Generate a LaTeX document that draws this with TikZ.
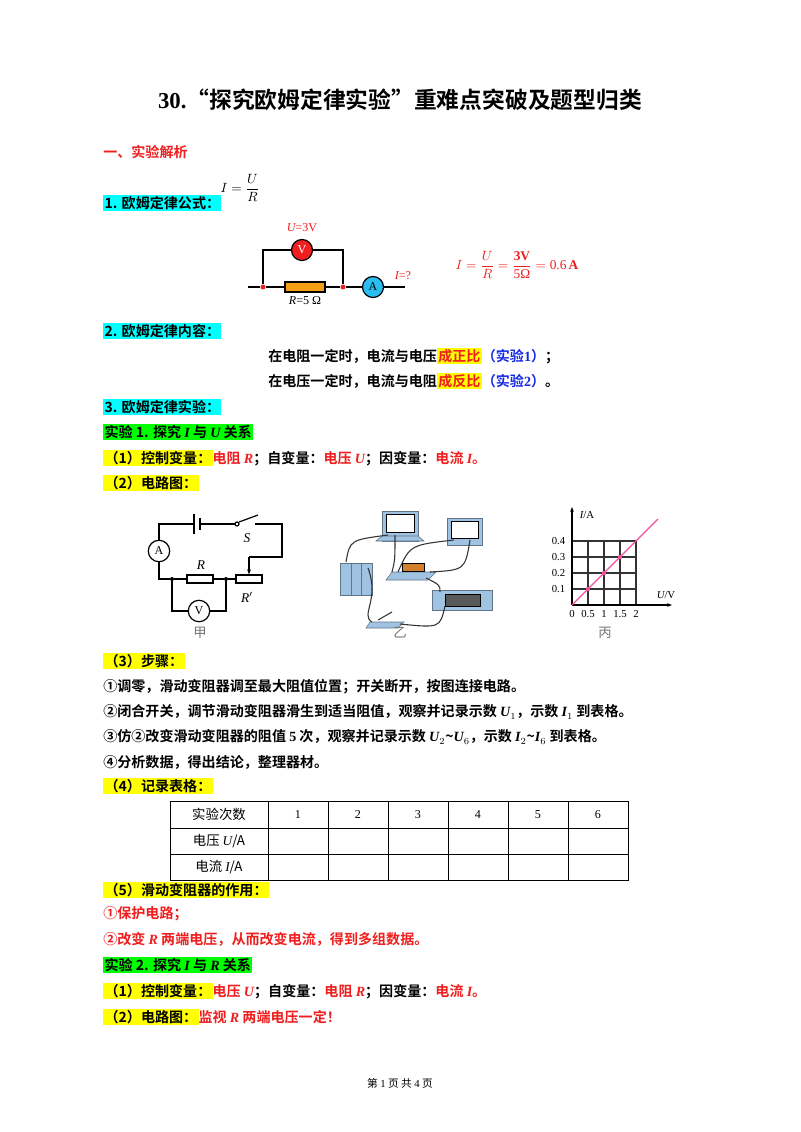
\documentclass[tikz,border=0pt]{standalone}
\usepackage{amsmath}
\usepackage{fontspec}
\setmainfont{Noto Sans CJK SC}[BoldFont={Noto Sans CJK SC Bold}]
\newfontfamily\lat{Liberation Serif}
\usetikzlibrary{arrows.meta,positioning,calc}
\definecolor{hlcyan}{RGB}{0,255,255}
\definecolor{hlgreen}{RGB}{0,255,0}
\definecolor{hlyellow}{RGB}{255,255,0}
\definecolor{txred}{RGB}{240,30,30}
\definecolor{txblue}{RGB}{20,40,230}
\definecolor{resorange}{RGB}{245,160,20}
\definecolor{metercyan}{RGB}{40,190,240}
\definecolor{appblue}{RGB}{160,195,225}
\newcommand{\hl}[2]{{\setlength\fboxsep{1pt}\colorbox{#1}{#2}}}
\newcommand{\vi}[1]{{\lat\itshape #1}}
\newcommand{\rd}[1]{\textcolor{txred}{#1}}
\tikzset{
  line/.style={anchor=west, inner sep=0pt, font=\fontsize{10.5}{12}\selectfont\bfseries},
  wire/.style={line width=0.9pt},
  meter/.style={circle, draw, wire, minimum size=15.7pt, inner sep=0pt, font=\lat\small},
  resist/.style={draw, wire, minimum width=19.5pt, minimum height=6pt, inner sep=0pt},
  dot/.style={circle, fill, inner sep=0pt, minimum size=3.7pt},
  cell/.style={font=\lat\small, anchor=base},
  app/.style={draw=appblue!60!black, fill=appblue},
  lead/.style={line width=0.8pt, black!80},
}
\begin{document}
\begin{tikzpicture}[x=0.02625cm, y=-0.02625cm]
  \useasboundingbox[fill=white] (0,0) rectangle (800,1132);
  % title
  \node[font=\fontsize{17}{20}\selectfont\bfseries] (title) at (400,100) {{\lat\bfseries 30.}“探究欧姆定律实验”重难点突破及题型归类};
  \node[line, text=txred] (sec1) at (103,152) {一、实验解析};
  \node[line] (h1) at (103,203) {\hl{hlcyan}{1. 欧姆定律公式：}};
  \node[font=\lat\normalsize] (f1) at (240,188) {$I=\dfrac{U}{R}$};
  % circuit 1
  \coordinate (wl) at (248,287);
  \node[dot, txred] (na) at (263,287) {};
  \node[dot, txred] (nb) at (343,287) {};
  \node[resist, fill=resorange, minimum width=30pt, minimum height=7.5pt] (r1) at (305,287) {};
  \node[meter, fill=txred, text=white] (vm) at (302,250) {V};
  \node[meter, fill=metercyan] (am) at (373,287) {A};
  \coordinate (wr) at (405,287);
  \draw[wire] (wl) -- (na) -- (r1) -- (nb) -- (am) -- (wr);
  \draw[wire] (na) |- (vm) -| (nb);
  \node[font=\lat\small, text=txred] (ulab) at (302,228) {\vi{U}=3V};
  \node[font=\lat\small, text=txred] (ilab) at (403,276) {\vi{I}=?};
  \node[font=\lat\small] (rlab) at (305,301) {\vi{R}=5 Ω};
  \node[font=\lat\normalsize, text=txred] (f2) at (517,265) {$I=\dfrac{U}{R}=\dfrac{\text{\lat\bfseries 3V}}{\text{\lat 5Ω}}=\text{\lat 0.6}\,\text{\lat\bfseries A}$};
  % ohm's law content
  \node[line] (h2) at (103,331) {\hl{hlcyan}{2. 欧姆定律内容：}};
  \node[line] (c1) at (268,356) {在电阻一定时，电流与电压\hl{hlyellow}{\rd{成正比}}\textcolor{txblue}{（实验{\lat 1}）}；};
  \node[line] (c2) at (268,381) {在电压一定时，电流与电阻\hl{hlyellow}{\rd{成反比}}\textcolor{txblue}{（实验{\lat 2}）}。};
  \node[line] (h3) at (103,407) {\hl{hlcyan}{3. 欧姆定律实验：}};
  \node[line] (e1) at (103,432) {\hl{hlgreen}{实验 1. 探究 \vi{\bfseries I} 与 \vi{\bfseries U} 关系}};
  \node[line] (e1a) at (103,458) {\hl{hlyellow}{（1）控制变量：}\rd{电阻 \vi{\bfseries R}}；自变量：\rd{电压 \vi{\bfseries U}}；因变量：\rd{电流 \vi{\bfseries I}。}};
  \node[line] (e1b) at (103,483) {\hl{hlyellow}{（2）电路图：}};
  % circuit jia
  \coordinate (tr) at (282,524);
  \coordinate (bl) at (159,579);
  \node[meter, minimum size=16pt] (a2) at (159,551) {A};
  \node[dot, minimum size=3pt] (n1) at (172,579) {};
  \node[dot, minimum size=3pt] (n2) at (226,579) {};
  \node[resist] (r2) at (200,579) {};
  \node[resist] (rp) at (249,579) {};
  \node[meter, minimum size=16pt] (v2) at (199,611) {V};
  \coordinate (sl) at (237,524);
  \coordinate (sr) at (255,524);
  \draw[wire] (a2) |- (194,524);
  \draw[wire] (194,514) -- (194,534);
  \draw[line width=1.6pt] (200,518) -- (200,530);
  \draw[wire] (200,524) -- (235,524);
  \draw[wire] (sl) circle (2);
  \draw[wire] (239,522) -- (258,515);
  \draw[wire] (sr) -- (tr) -- (282,557) -- (249,557);
  \draw[wire, -{Stealth[length=3.7pt]}] (249,557) -- (rp.north);
  \draw[wire] (a2) -- (bl) -- (n1) -- (r2) -- (n2) -- (rp);
  \draw[wire] (n1) |- (v2) -| (n2);
  \node[font=\lat\itshape] (slab) at (247,538) {S};
  \node[font=\lat\itshape] (rlab2) at (201,565) {R};
  \node[font=\lat\itshape] (rplab) at (247,597) {R$'$};
  % apparatus yi
  \draw[app] (382,511) rectangle (418,541);
  \draw[app] (376,541) -- (424,541) -- (418,536) -- (382,536) -- cycle;
  \draw[fill=white] (386,514) rectangle (414,532);
  \draw[app] (447,518) rectangle (482,545);
  \draw[fill=white] (451,521) rectangle (478,538);
  \draw[app] (340,563) rectangle (372,595);
  \draw[appblue!60!black] (351,563) -- (351,595) (361,563) -- (361,595);
  \draw[app] (392,572) -- (436,572) -- (428,580) -- (386,580) -- cycle;
  \draw[fill=brown!70!orange] (402,563) rectangle (424,571);
  \draw[app] (432,590) rectangle (492,610);
  \draw[fill=black!65] (445,594) rectangle (480,606);
  \draw[app] (370,622) -- (404,622) -- (398,628) -- (366,628) -- cycle;
  \draw[lead] (378,620) -- (392,612);
  \draw[lead] (388,535) .. controls (350,540) .. (346,562);
  \draw[lead] (395,535) .. controls (395,560) .. (392,572);
  \draw[lead] (454,540) .. controls (410,545) .. (398,572);
  \draw[lead] (470,540) .. controls (465,570) .. (430,572);
  \draw[lead] (368,568) .. controls (380,600) and (360,615) .. (372,622);
  \draw[lead] (400,624) .. controls (440,628) .. (445,606);
  \draw[lead] (426,578) .. controls (440,585) .. (440,592);
  \node[text=black!55] (jia) at (200,633) {甲};
  \node[text=black!55] (yi) at (400,633) {乙};
  \node[text=black!55] (bing) at (605,633) {丙};
  % graph bing
  \coordinate (o) at (572,605);
  \foreach \k in {1,...,4} {
    \draw[wire, black!80] (572+16*\k,605) -- (572+16*\k,541);
    \draw[wire, black!80] (572,605-16*\k) -- (636,605-16*\k);
  }
  \draw[wire, -{Stealth[length=3.7pt]}] (o) -- (572,507);
  \draw[wire, -{Stealth[length=3.7pt]}] (o) -- (672,605);
  \draw[line width=0.9pt, magenta!60!pink] (o) -- (658,519);
  \foreach \k in {1,2,3} \fill[magenta!60!pink] ($(o)+(16*\k,-16*\k)$) circle (2.2);
  \foreach \v/\t in {1/0.1,2/0.2,3/0.3,4/0.4} \node[font=\lat\footnotesize, anchor=east] at (570,605-16*\v) {\t};
  \foreach \u/\t in {0/0,1/0.5,2/1,3/1.5,4/2} \node[font=\lat\footnotesize, anchor=north] at (572+16*\u,606) {\t};
  \node[font=\lat\footnotesize] (ylab) at (587,515) {\vi{I}/A};
  \node[font=\lat\footnotesize] (xlab) at (666,595) {\vi{U}/V};
  % steps
  \node[line] (h4) at (103,661) {\hl{hlyellow}{（3）步骤：}};
  \node[line] (s1) at (103,687) {①调零，滑动变阻器调至最大阻值位置；开关断开，按图连接电路。};
  \node[line] (s2) at (103,712) {②闭合开关，调节滑动变阻器滑生到适当阻值，观察并记录示数 \vi{U}$_{\lat 1}$，示数 \vi{I}$_{\lat 1}$ 到表格。};
  \node[line] (s3) at (103,737) {③仿②改变滑动变阻器的阻值 {\lat 5} 次，观察并记录示数 \vi{U}$_2$\textasciitilde\vi{U}$_6$，示数 \vi{I}$_2$\textasciitilde\vi{I}$_6$ 到表格。};
  \node[line] (s4) at (103,762) {④分析数据，得出结论，整理器材。};
  \node[line] (h5) at (103,786) {\hl{hlyellow}{（4）记录表格：}};
  % table
  \draw[line width=0.6pt] (170,801) rectangle (628,880);
  \draw[line width=0.6pt] (170,828) -- (628,828) (170,854) -- (628,854);
  \foreach \cx in {268,328,388,448,508,568} \draw[line width=0.6pt] (\cx,801) -- (\cx,880);
  \node (t0) at (219,814) {实验次数};
  \foreach \i in {1,...,6} \node[cell] at (238+60*\i,818) {\i};
  \node (t1) at (219,841) {电压 \vi{U}/A};
  \node (t2) at (219,867) {电流 \vi{I}/A};
  % rheostat role
  \node[line] (h6) at (103,890) {\hl{hlyellow}{（5）滑动变阻器的作用：}};
  \node[line, text=txred] (p1) at (103,914) {①保护电路；};
  \node[line, text=txred] (p2) at (103,939) {②改变 \vi{\bfseries R} 两端电压，从而改变电流，得到多组数据。};
  \node[line] (e2) at (103,965) {\hl{hlgreen}{实验 2. 探究 \vi{\bfseries I} 与 \vi{\bfseries R} 关系}};
  \node[line] (e2a) at (103,991) {\hl{hlyellow}{（1）控制变量：}\rd{电压 \vi{\bfseries U}}；自变量：\rd{电阻 \vi{\bfseries R}}；因变量：\rd{电流 \vi{\bfseries I}。}};
  \node[line] (e2b) at (103,1017) {\hl{hlyellow}{（2）电路图：}\rd{监视 \vi{\bfseries R} 两端电压一定！}};
  \node[font=\footnotesize] (foot) at (400,1083) {第 {\lat 1} 页 共 {\lat 4} 页};
\end{tikzpicture}
\end{document}
